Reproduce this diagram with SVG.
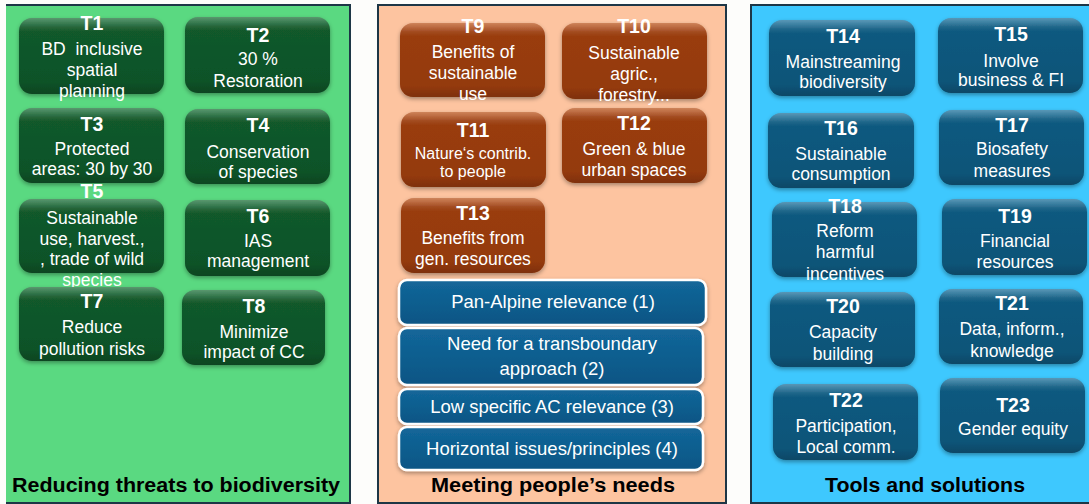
<svg xmlns="http://www.w3.org/2000/svg" width="1089" height="504" viewBox="0 0 1089 504">
  <style>
    .t { font-family: "Liberation Sans", Arial, sans-serif; fill: #ffffff; text-anchor: middle; }
    .h { font-weight: bold; font-size: 19.5px; }
    .b { font-size: 17.5px; }
    .s { font-size: 16px; }
    .bar { font-size: 18.5px; }
    .lab { font-family: "Liberation Sans", Arial, sans-serif; font-weight: bold; font-size: 20px; fill: #000000; text-anchor: middle; }
    .edge { fill: none; stroke: #1d3646; stroke-width: 2; }
    .gloss { fill: url(#gloss); }
    .g { fill: url(#fillGreen); filter: url(#shadow); }
    .r { fill: url(#fillBrown); filter: url(#shadow); }
    .u { fill: url(#fillBlue); filter: url(#shadow); }
    .bb { fill: url(#fillBar); stroke: #ffffff; stroke-width: 2.5; filter: url(#shadow); }
  </style>
  <defs>
    <linearGradient id="fillGreen" x1="0" y1="0" x2="0" y2="1">
      <stop offset="0" stop-color="#2b7a46"/>
      <stop offset="0.12" stop-color="#125a2c"/>
      <stop offset="0.85" stop-color="#0e5228"/>
      <stop offset="1" stop-color="#0a4520"/>
    </linearGradient>
    <linearGradient id="fillBrown" x1="0" y1="0" x2="0" y2="1">
      <stop offset="0" stop-color="#c0602c"/>
      <stop offset="0.12" stop-color="#9a3c0e"/>
      <stop offset="0.85" stop-color="#943a0b"/>
      <stop offset="1" stop-color="#7e3008"/>
    </linearGradient>
    <linearGradient id="fillBlue" x1="0" y1="0" x2="0" y2="1">
      <stop offset="0" stop-color="#2a7aa2"/>
      <stop offset="0.12" stop-color="#0d5a80"/>
      <stop offset="0.85" stop-color="#0b5478"/>
      <stop offset="1" stop-color="#084866"/>
    </linearGradient>
    <linearGradient id="fillBar" x1="0" y1="0" x2="0" y2="1">
      <stop offset="0" stop-color="#13679a"/>
      <stop offset="1" stop-color="#0a5584"/>
    </linearGradient>
    <linearGradient id="gloss" x1="0" y1="0" x2="0" y2="1">
      <stop offset="0" stop-color="#ffffff" stop-opacity="0.22"/>
      <stop offset="0.18" stop-color="#ffffff" stop-opacity="0"/>
      <stop offset="1" stop-color="#ffffff" stop-opacity="0"/>
    </linearGradient>
    <filter id="shadow" x="-10%" y="-10%" width="120%" height="130%">
      <feDropShadow dx="0" dy="2" stdDeviation="2" flood-color="#000000" flood-opacity="0.35"/>
    </filter>
  </defs>

  <rect width="1089" height="504" fill="#fdfdfb"/>

  <!-- three category panels -->
  <g id="panels">
    <rect x="6" y="5" width="344" height="498" fill="#5ad981"/>
    <polyline class="edge" points="6,5 350,5 350,503 6,503"/>
    <rect x="378" y="5" width="348" height="498" fill="#fdc4a0"/>
    <rect class="edge" x="378" y="5" width="348" height="498"/>
    <rect x="751" y="5" width="340" height="498" fill="#3ec8fe"/>
    <polyline class="edge" points="1091,5 751,5 751,503 1091,503"/>
  </g>

  <!-- Reducing threats to biodiversity -->
  <g id="t1"><rect class="g" x="19" y="18" width="145" height="76" rx="13"/><rect class="gloss" x="19" y="18" width="145" height="76" rx="13"/>
    <text class="t h" x="92" y="30">T1</text>
    <text class="t b" x="92" y="55" xml:space="preserve">BD  inclusive</text>
    <text class="t b" x="92" y="76">spatial</text>
    <text class="t b" x="92" y="97">planning</text></g>
  <g id="t2"><rect class="g" x="185" y="17" width="145" height="76" rx="13"/><rect class="gloss" x="185" y="17" width="145" height="76" rx="13"/>
    <text class="t h" x="258" y="42">T2</text>
    <text class="t b" x="258" y="65">30 %</text>
    <text class="t b" x="258" y="87">Restoration</text></g>
  <g id="t3"><rect class="g" x="19" y="108" width="145" height="75" rx="13"/><rect class="gloss" x="19" y="108" width="145" height="75" rx="13"/>
    <text class="t h" x="92" y="131">T3</text>
    <text class="t b" x="92" y="155">Protected</text>
    <text class="t b" x="92" y="175">areas: 30 by 30</text></g>
  <g id="t4"><rect class="g" x="185" y="109" width="145" height="75" rx="13"/><rect class="gloss" x="185" y="109" width="145" height="75" rx="13"/>
    <text class="t h" x="258" y="132">T4</text>
    <text class="t b" x="258" y="158">Conservation</text>
    <text class="t b" x="258" y="178">of species</text></g>
  <g id="t5"><rect class="g" x="19" y="199" width="145" height="74" rx="13"/><rect class="gloss" x="19" y="199" width="145" height="74" rx="13"/>
    <text class="t h" x="92" y="198">T5</text>
    <text class="t b" x="92" y="224">Sustainable</text>
    <text class="t b" x="92" y="245">use, harvest.,</text>
    <text class="t b" x="92" y="265">, trade of wild</text>
    <text class="t b" x="92" y="286">species</text></g>
  <g id="t6"><rect class="g" x="185" y="200" width="145" height="76" rx="13"/><rect class="gloss" x="185" y="200" width="145" height="76" rx="13"/>
    <text class="t h" x="258" y="223">T6</text>
    <text class="t b" x="258" y="247">IAS</text>
    <text class="t b" x="258" y="267">management</text></g>
  <g id="t7"><rect class="g" x="19" y="287" width="145" height="74" rx="13"/><rect class="gloss" x="19" y="287" width="145" height="74" rx="13"/>
    <text class="t h" x="92" y="308">T7</text>
    <text class="t b" x="92" y="333">Reduce</text>
    <text class="t b" x="92" y="355">pollution risks</text></g>
  <g id="t8"><rect class="g" x="182" y="290" width="143" height="75" rx="13"/><rect class="gloss" x="182" y="290" width="143" height="75" rx="13"/>
    <text class="t h" x="254" y="313">T8</text>
    <text class="t b" x="254" y="338">Minimize</text>
    <text class="t b" x="254" y="358">impact of CC</text></g>

  <!-- Meeting people's needs -->
  <g id="t9"><rect class="r" x="400" y="23" width="145" height="74" rx="13"/><rect class="gloss" x="400" y="23" width="145" height="74" rx="13"/>
    <text class="t h" x="473" y="33">T9</text>
    <text class="t b" x="473" y="58">Benefits of</text>
    <text class="t b" x="473" y="79">sustainable</text>
    <text class="t b" x="473" y="100">use</text></g>
  <g id="t10"><rect class="r" x="562" y="23" width="145" height="76" rx="13"/><rect class="gloss" x="562" y="23" width="145" height="76" rx="13"/>
    <text class="t h" x="634" y="33">T10</text>
    <text class="t b" x="634" y="59">Sustainable</text>
    <text class="t b" x="634" y="80">agric.,</text>
    <text class="t b" x="634" y="101">forestry...</text></g>
  <g id="t11"><rect class="r" x="401" y="112" width="145" height="75" rx="13"/><rect class="gloss" x="401" y="112" width="145" height="75" rx="13"/>
    <text class="t h" x="473" y="137">T11</text>
    <text class="t s" x="473" y="159">Nature‘s contrib.</text>
    <text class="t s" x="473" y="177">to people</text></g>
  <g id="t12"><rect class="r" x="562" y="108" width="145" height="75" rx="13"/><rect class="gloss" x="562" y="108" width="145" height="75" rx="13"/>
    <text class="t h" x="634" y="130">T12</text>
    <text class="t b" x="634" y="155">Green &amp; blue</text>
    <text class="t b" x="634" y="176">urban spaces</text></g>
  <g id="t13"><rect class="r" x="401" y="198" width="144" height="75" rx="13"/><rect class="gloss" x="401" y="198" width="144" height="75" rx="13"/>
    <text class="t h" x="473" y="220">T13</text>
    <text class="t b" x="473" y="244">Benefits from</text>
    <text class="t b" x="473" y="265">gen. resources</text></g>

  <g id="relevance1"><rect class="bb" x="399" y="280" width="307" height="45" rx="8"/>
    <text class="t bar" x="553" y="308">Pan-Alpine relevance (1)</text></g>
  <g id="relevance2"><rect class="bb" x="399" y="328" width="304" height="57" rx="8"/>
    <text class="t bar" x="552" y="350">Need for a transboundary</text>
    <text class="t bar" x="552" y="375">approach (2)</text></g>
  <g id="relevance3"><rect class="bb" x="399" y="389" width="304" height="35" rx="8"/>
    <text class="t bar" x="552" y="413">Low specific AC relevance (3)</text></g>
  <g id="relevance4"><rect class="bb" x="399" y="427" width="304" height="43" rx="8"/>
    <text class="t bar" x="552" y="455">Horizontal issues/principles (4)</text></g>

  <!-- Tools and solutions -->
  <g id="t14"><rect class="u" x="769" y="20" width="146" height="76" rx="13"/><rect class="gloss" x="769" y="20" width="146" height="76" rx="13"/>
    <text class="t h" x="843" y="43">T14</text>
    <text class="t b" x="843" y="68">Mainstreaming</text>
    <text class="t b" x="843" y="88">biodiversity</text></g>
  <g id="t15"><rect class="u" x="938" y="18" width="145" height="75" rx="13"/><rect class="gloss" x="938" y="18" width="145" height="75" rx="13"/>
    <text class="t h" x="1011" y="41">T15</text>
    <text class="t b" x="1011" y="67">Involve</text>
    <text class="t b" x="1011" y="86">business &amp; FI</text></g>
  <g id="t16"><rect class="u" x="768" y="113" width="146" height="75" rx="13"/><rect class="gloss" x="768" y="113" width="146" height="75" rx="13"/>
    <text class="t h" x="841" y="135">T16</text>
    <text class="t b" x="841" y="160">Sustainable</text>
    <text class="t b" x="841" y="180">consumption</text></g>
  <g id="t17"><rect class="u" x="939" y="110" width="145" height="75" rx="13"/><rect class="gloss" x="939" y="110" width="145" height="75" rx="13"/>
    <text class="t h" x="1012" y="132">T17</text>
    <text class="t b" x="1012" y="155">Biosafety</text>
    <text class="t b" x="1012" y="177">measures</text></g>
  <g id="t18"><rect class="u" x="772" y="202" width="145" height="75" rx="13"/><rect class="gloss" x="772" y="202" width="145" height="75" rx="13"/>
    <text class="t h" x="845" y="213">T18</text>
    <text class="t b" x="845" y="237">Reform</text>
    <text class="t b" x="845" y="258">harmful</text>
    <text class="t b" x="845" y="280">incentives</text></g>
  <g id="t19"><rect class="u" x="942" y="199" width="145" height="76" rx="13"/><rect class="gloss" x="942" y="199" width="145" height="76" rx="13"/>
    <text class="t h" x="1015" y="223">T19</text>
    <text class="t b" x="1015" y="247">Financial</text>
    <text class="t b" x="1015" y="268">resources</text></g>
  <g id="t20"><rect class="u" x="770" y="292" width="145" height="75" rx="13"/><rect class="gloss" x="770" y="292" width="145" height="75" rx="13"/>
    <text class="t h" x="843" y="313">T20</text>
    <text class="t b" x="843" y="338">Capacity</text>
    <text class="t b" x="843" y="360">building</text></g>
  <g id="t21"><rect class="u" x="939" y="289" width="144" height="75" rx="13"/><rect class="gloss" x="939" y="289" width="144" height="75" rx="13"/>
    <text class="t h" x="1012" y="310">T21</text>
    <text class="t b" x="1012" y="335">Data, inform.,</text>
    <text class="t b" x="1012" y="357">knowledge</text></g>
  <g id="t22"><rect class="u" x="773" y="384" width="145" height="76" rx="13"/><rect class="gloss" x="773" y="384" width="145" height="76" rx="13"/>
    <text class="t h" x="846" y="407">T22</text>
    <text class="t b" x="846" y="432">Participation,</text>
    <text class="t b" x="846" y="453">Local comm.</text></g>
  <g id="t23"><rect class="u" x="940" y="378" width="145" height="75" rx="13"/><rect class="gloss" x="940" y="378" width="145" height="75" rx="13"/>
    <text class="t h" x="1013" y="412">T23</text>
    <text class="t b" x="1013" y="435">Gender equity</text></g>

  <!-- panel captions -->
  <g id="captions">
    <text class="lab" x="176" y="492" textLength="328" lengthAdjust="spacingAndGlyphs">Reducing threats to biodiversity</text>
    <text class="lab" x="553" y="492" textLength="244" lengthAdjust="spacingAndGlyphs">Meeting people’s needs</text>
    <text class="lab" x="925" y="492" textLength="200" lengthAdjust="spacingAndGlyphs">Tools and solutions</text>
  </g>
</svg>
